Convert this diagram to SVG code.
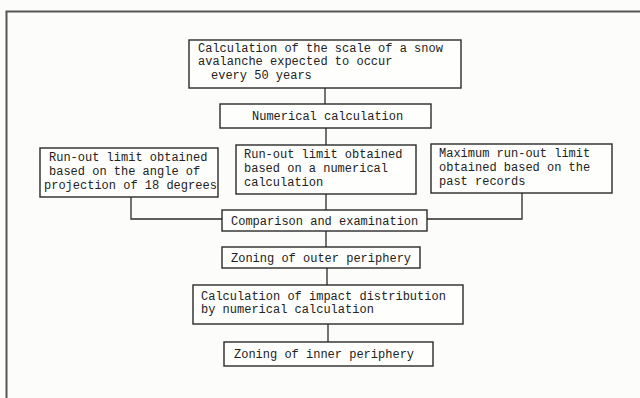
<svg xmlns="http://www.w3.org/2000/svg" width="640" height="398" viewBox="0 0 640 398">
<style>
.bx{fill:#fefefc;stroke:#2a2a2a;stroke-width:1.4}
.t{font-family:"Liberation Mono","DejaVu Sans Mono",monospace;font-size:12px;fill:#222}
.c{fill:none;stroke:#2a2a2a;stroke-width:1.3}
</style>
<rect x="0" y="0" width="640" height="398" fill="#fcfcfa"/>
<path d="M6.5,400 V11.5 H642" fill="none" stroke="#555" stroke-width="2"/>
<g id="connectors">
<path class="c" d="M325,88 V104"/>
<path class="c" d="M326,128 V145"/>
<path class="c" d="M131,197 V219 H222"/>
<path class="c" d="M522,193 V219 H427"/>
<path class="c" d="M326,194 V210"/>
<path class="c" d="M326,231 V247"/>
<path class="c" d="M327,268 V285"/>
<path class="c" d="M328,324 V342"/>
</g>
<g id="n1"><rect class="bx" x="189" y="40" width="272" height="48"/>
<text class="t" x="198" y="51.5">Calculation of the scale of a snow</text>
<text class="t" x="198" y="65">avalanche expected to occur</text>
<text class="t" x="211" y="78.5">every 50 years</text></g>
<g id="n2"><rect class="bx" x="220" y="104" width="211" height="24"/>
<text class="t" x="252" y="120">Numerical calculation</text></g>
<g id="n3"><rect class="bx" x="40" y="148" width="178" height="49"/>
<text class="t" x="49" y="161">Run-out limit obtained</text>
<text class="t" x="49" y="175">based on the angle of</text>
<text class="t" x="44" y="189">projection of 18 degrees</text></g>
<g id="n4"><rect class="bx" x="236" y="145" width="180" height="49"/>
<text class="t" x="244" y="158">Run-out limit obtained</text>
<text class="t" x="244" y="172">based on a numerical</text>
<text class="t" x="244" y="186">calculation</text></g>
<g id="n5"><rect class="bx" x="431" y="144" width="181" height="49"/>
<text class="t" x="439" y="157">Maximum run-out limit</text>
<text class="t" x="439" y="171">obtained based on the</text>
<text class="t" x="439" y="185">past records</text></g>
<g id="n6"><rect class="bx" x="222" y="210" width="205" height="21"/>
<text class="t" x="231" y="225">Comparison and examination</text></g>
<g id="n7"><rect class="bx" x="222" y="247" width="198" height="21"/>
<text class="t" x="231" y="262">Zoning of outer periphery</text></g>
<g id="n8"><rect class="bx" x="193" y="285" width="270" height="39"/>
<text class="t" x="201" y="300">Calculation of impact distribution</text>
<text class="t" x="201" y="313">by numerical calculation</text></g>
<g id="n9"><rect class="bx" x="224" y="342" width="209" height="24"/>
<text class="t" x="234" y="358">Zoning of inner periphery</text></g>
</svg>
